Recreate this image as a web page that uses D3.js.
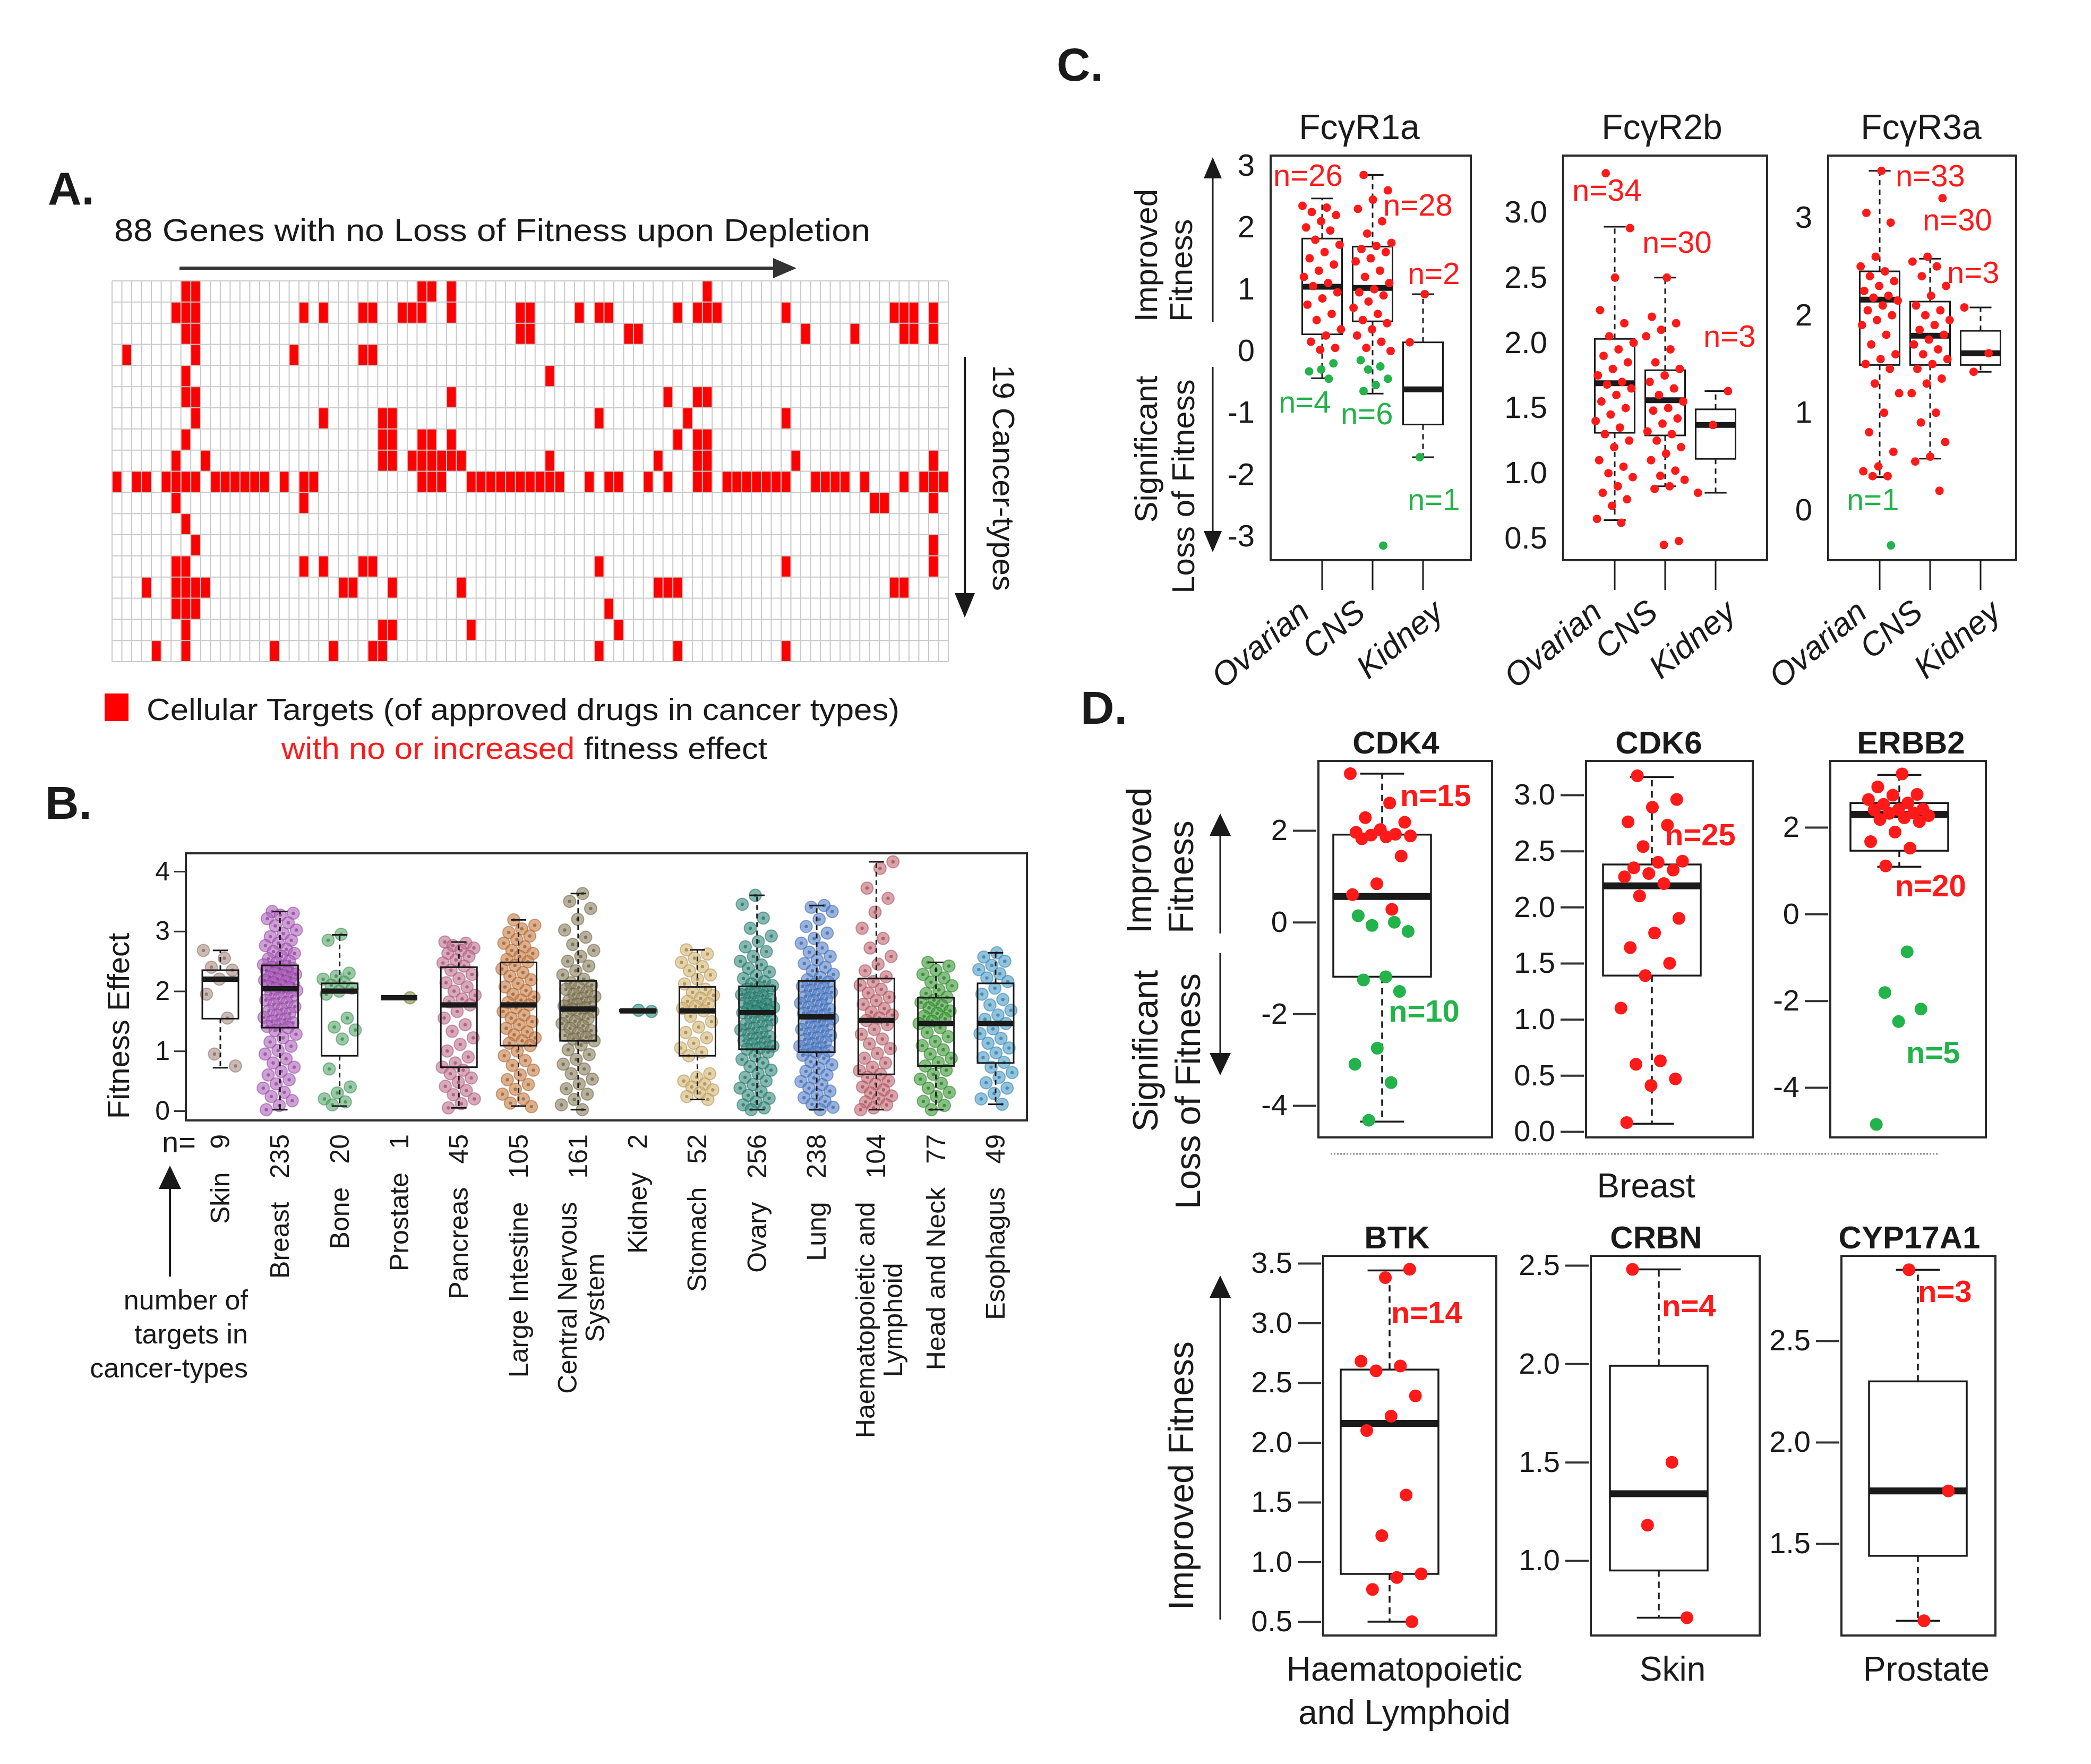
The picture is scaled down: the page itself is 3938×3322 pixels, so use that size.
<!DOCTYPE html>
<html>
<head>
<meta charset="utf-8">
<script src="https://cdn.jsdelivr.net/npm/d3@7/dist/d3.min.js"></script>
<style>
  body { margin: 0; background: #fff; }
  svg text { font-family: 'Liberation Sans', Arial, Helvetica, sans-serif; }
</style>
</head>
<body>
<svg id="fig" width="3938" height="3322"></svg>
<script>
// ============================================================
// Four-panel figure: A heatmap of drug targets, B fitness effect
// per cancer type, C Fc-gamma receptors, D selected targets.
// ============================================================

// ---------- Panel A: which gene columns are red in each cancer-type row ----------
const heatGenes = 85;
const heatTypes = 18;
const heatHits = [
  [7,8,31,32,34,60],
  [6,7,8,19,21,25,26,29,30,31,34,41,42,47,49,50,57,59,60,61,68,79,80,81,83],
  [7,8,41,42,52,53,70,75,80,81,83],
  [1,8,18,25,26],
  [7,44],
  [7,8,34,56,59,60],
  [8,21,27,28,49,58,68],
  [7,27,28,31,32,34,57,59,60],
  [6,9,27,28,30,31,32,33,34,35,44,55,59,60,69,83],
  [0,2,3,5,6,7,8,10,11,12,13,14,15,17,19,20,31,32,33,36,37,38,39,40,41,42,43,44,45,48,50,51,54,56,59,60,62,63,64,65,66,67,68,71,72,73,74,76,80,82,83,84],
  [6,19,77,78,83],
  [7],
  [8,83],
  [6,7,19,21,25,26,49,68,83],
  [3,6,7,8,9,23,24,28,35,55,56,57,79,80],
  [6,7,8,50],
  [7,27,28,36,51],
  [4,7,16,22,26,27,49,57,68]
];

// ---------- Panel B: fitness effect by cancer type ----------
const bTypes = ["Skin","Breast","Bone","Prostate","Pancreas","Large Intestine","Central Nervous System",
  "Kidney","Stomach","Ovary","Lung","Haematopoietic and Lymphoid","Head and Neck","Esophagus"];
const bLines = [["Skin"],["Breast"],["Bone"],["Prostate"],["Pancreas"],["Large Intestine"],
  ["Central Nervous","System"],["Kidney"],["Stomach"],["Ovary"],["Lung"],
  ["Haematopoietic and","Lymphoid"],["Head and Neck"],["Esophagus"]];
const bCounts = [9,235,20,1,45,105,161,2,52,256,238,104,77,49];
const bColors = ["#a98a82","#b15dbf","#52a866","#7d8a3a","#c46d8e","#c97a3d","#877b56",
  "#1f8a7c","#d6b46c","#2f8a7c","#5280cf","#c4636f","#33992f","#449dcd"];
const bLow  = [0.72,0.02,0.08,1.89,0.05,0.08,0.02,1.67,0.19,0.02,0.02,0.02,0.02,0.11];
const bQ1   = [1.54,1.39,0.92,1.89,0.73,1.09,1.17,1.66,0.92,1.03,0.98,0.61,0.75,0.80];
const bMed  = [2.20,2.04,2.00,1.89,1.77,1.77,1.70,1.67,1.67,1.64,1.57,1.51,1.46,1.46];
const bQ3   = [2.35,2.43,2.13,1.89,2.40,2.48,2.17,1.69,2.07,2.08,2.17,2.21,1.89,2.13];
const bHigh = [2.68,3.33,2.94,1.89,2.82,3.19,3.63,1.69,2.69,3.60,3.43,4.16,2.48,2.64];
const bPoints = [
  [2.68,2.55,2.4,2.35,2.2,1.95,1.55,0.95,0.75],
  [3.33,3.3,3.27,3.21,3.14,3.09,3.02,2.96,2.91,2.85,2.8,2.76,2.7,2.66,2.63,2.58,2.54,2.5,2.47,2.44,
   2.42,2.4,2.38,2.37,2.34,2.32,2.3,2.28,2.26,2.23,2.22,2.2,2.18,2.16,2.14,2.12,2.1,2.08,2.06,2.04,
   2.01,1.98,1.95,1.91,1.88,1.85,1.81,1.78,1.74,1.7,1.67,1.63,1.6,1.56,1.53,1.5,1.47,1.44,1.41,1.39,
   1.34,1.28,1.22,1.15,1.08,1.01,0.95,0.87,0.8,0.73,0.66,0.6,0.52,0.45,0.38,0.31,0.24,0.17,0.09,0.02],
  [2.95,2.85,2.3,2.25,2.2,2.15,2.1,2.05,2.0,1.95,1.55,1.4,1.35,1.2,0.7,0.4,0.3,0.2,0.15,0.1],
  [1.89],
  [2.82,2.8,2.76,2.72,2.68,2.63,2.58,2.52,2.47,2.42,2.35,2.28,2.21,2.14,2.07,2.0,1.93,1.87,1.82,1.77,
   1.66,1.55,1.44,1.33,1.22,1.11,1.0,0.9,0.8,0.73,0.68,0.62,0.55,0.48,0.41,0.34,0.27,0.2,0.12,0.05],
  [3.19,3.1,3.04,2.98,2.92,2.86,2.8,2.74,2.68,2.63,2.58,2.53,2.49,2.43,2.37,2.31,2.25,2.19,2.13,2.07,
   2.01,1.95,1.9,1.85,1.81,1.77,1.72,1.66,1.6,1.55,1.49,1.44,1.38,1.32,1.27,1.22,1.17,1.13,1.09,1.0,
   0.92,0.84,0.76,0.68,0.6,0.52,0.44,0.36,0.28,0.2,0.13,0.07],
  [3.63,3.5,3.38,3.2,3.02,2.9,2.78,2.68,2.58,2.5,2.42,2.34,2.27,2.2,2.14,2.1,2.06,2.03,1.99,1.95,
   1.91,1.88,1.84,1.81,1.78,1.75,1.72,1.7,1.66,1.62,1.58,1.54,1.5,1.46,1.42,1.38,1.34,1.3,1.26,1.23,
   1.2,1.17,1.1,1.02,0.94,0.86,0.78,0.7,0.62,0.53,0.45,0.37,0.28,0.19,0.1,0.02],
  [1.66,1.68],
  [2.69,2.62,2.55,2.48,2.41,2.34,2.27,2.2,2.12,2.03,1.98,1.93,1.88,1.83,1.79,1.75,1.71,1.67,
   1.58,1.49,1.4,1.31,1.22,1.13,1.05,0.98,0.92,0.62,0.56,0.5,0.45,0.4,0.35,0.3,0.24,0.19],
  [3.6,3.45,3.22,3.05,2.92,2.83,2.74,2.66,2.58,2.5,2.44,2.38,2.32,2.26,2.21,2.16,2.12,2.09,
   2.06,2.03,2.0,1.97,1.94,1.92,1.89,1.86,1.83,1.8,1.78,1.75,1.73,1.71,1.69,1.67,1.66,1.64,
   1.6,1.56,1.52,1.49,1.45,1.42,1.38,1.35,1.31,1.28,1.24,1.21,1.17,1.14,1.11,1.08,1.05,1.03,
   0.98,0.92,0.86,0.8,0.74,0.68,0.62,0.56,0.5,0.44,0.38,0.32,0.26,0.21,0.15,0.1,0.05,0.02],
  [3.43,3.4,3.33,3.2,3.08,2.97,2.88,2.8,2.72,2.65,2.58,2.52,2.46,2.4,2.34,2.28,2.23,2.19,
   2.15,2.12,2.08,2.05,2.01,1.98,1.94,1.91,1.87,1.84,1.8,1.77,1.73,1.7,1.66,1.63,1.6,1.57,
   1.54,1.5,1.47,1.43,1.4,1.36,1.33,1.29,1.26,1.22,1.19,1.15,1.12,1.08,1.05,1.02,1.0,0.98,
   0.93,0.88,0.82,0.77,0.71,0.66,0.6,0.55,0.49,0.44,0.38,0.33,0.27,0.22,0.16,0.11,0.06,0.02],
  [4.16,4.05,3.72,3.55,3.32,3.05,2.88,2.72,2.58,2.45,2.34,2.24,2.16,2.1,2.03,1.97,1.9,1.84,1.78,1.71,
   1.65,1.6,1.55,1.51,1.44,1.36,1.28,1.2,1.12,1.04,0.96,0.88,0.8,0.73,0.67,0.61,0.56,0.5,0.45,0.4,
   0.35,0.3,0.25,0.2,0.15,0.1,0.05,0.02],
  [2.48,2.42,2.35,2.28,2.22,2.15,2.09,2.02,1.96,1.9,1.85,1.81,1.76,1.72,1.67,1.63,1.58,1.54,1.5,1.46,
   1.39,1.31,1.24,1.16,1.09,1.02,0.95,0.88,0.81,0.75,0.68,0.61,0.53,0.46,0.38,0.31,0.24,0.16,0.09,0.02],
  [2.64,2.57,2.5,2.43,2.36,2.29,2.22,2.16,2.05,1.95,1.86,1.77,1.68,1.6,1.53,1.46,
   1.37,1.29,1.21,1.13,1.05,0.97,0.89,0.81,0.73,0.64,0.56,0.47,0.38,0.29,0.2,0.11]
];
const bTicks = [0,1,2,3,4];

// ---------- Panel C: Fc-gamma receptors in three cancer types ----------
const cGenes = ["FcγR1a","FcγR2b","FcγR3a"];
const cTypes = ["Ovarian","CNS","Kidney"];
const cLow  = [[-0.44,-0.69,-1.72],[0.64,0.90,0.85],[0.34,0.53,1.42]];
const cQ1   = [[0.27,0.48,-1.19],[1.31,1.29,1.11],[1.49,1.49,1.49]];
const cMed  = [[1.04,1.02,-0.62],[1.69,1.56,1.37],[2.16,1.79,1.61]];
const cQ3   = [[1.82,1.69,0.14],[2.03,1.79,1.49],[2.45,2.14,1.84]];
const cHigh = [[2.47,2.85,0.92],[2.89,2.50,1.63],[3.48,2.58,2.08]];
const cRed = [
  [[2.35,2.32,2.25,2.2,2.1,2.0,1.95,1.8,1.72,1.6,1.5,1.4,1.3,1.2,1.1,1.05,0.95,0.85,0.75,0.6,0.5,0.35,0.25,0.15,0.05,0.02],
   [2.85,2.6,2.45,2.3,2.1,1.9,1.75,1.7,1.65,1.6,1.5,1.45,1.3,1.2,1.1,1.0,0.95,0.9,0.8,0.7,0.6,0.5,0.45,0.35,0.25,0.15,0.05,0.0],
   [0.92,0.14]],
  [[3.3,2.88,2.5,2.25,2.15,2.05,2.0,1.95,1.9,1.85,1.8,1.75,1.7,1.68,1.65,1.6,1.55,1.5,1.45,1.4,1.35,1.3,1.25,1.2,1.1,1.05,1.0,0.97,0.9,0.85,0.8,0.75,0.65,0.62],
   [2.5,2.2,2.15,2.1,2.05,1.95,1.85,1.8,1.75,1.7,1.65,1.6,1.55,1.5,1.48,1.42,1.38,1.32,1.3,1.25,1.2,1.15,1.1,1.02,0.98,0.95,0.9,0.88,0.48,0.45],
   [1.63,1.37,0.85]],
  [[3.48,3.05,2.95,2.6,2.5,2.45,2.4,2.35,2.3,2.25,2.2,2.18,2.15,2.1,2.05,2.0,1.95,1.9,1.8,1.7,1.6,1.55,1.5,1.45,1.3,1.2,1.0,0.8,0.6,0.45,0.4,0.35,0.35],
   [3.2,2.6,2.55,2.5,2.4,2.3,2.2,2.1,2.05,2.0,1.95,1.9,1.85,1.8,1.75,1.7,1.65,1.6,1.55,1.5,1.45,1.35,1.3,1.2,1.0,0.9,0.7,0.55,0.5,0.2],
   [2.08,1.61,1.42]]
];
const cGreen = [
  [[-0.2,-0.3,-0.33,-0.45],[-0.15,-0.25,-0.3,-0.45,-0.55,-0.65,-3.15],[-1.72]],
  [[],[],[]],
  [[-0.36],[],[]]
];
const cRedN   = [[26,28,2],[34,30,3],[33,30,3]];
const cGreenN = [[4,6,1],[null,null,null],[1,null,null]];
const cTicks  = [[-3,-2,-1,0,1,2,3],[0.5,1.0,1.5,2.0,2.5,3.0],[0,1,2,3]];

// ---------- Panel D: approved-drug targets ----------
const dGenes = ["CDK4","CDK6","ERBB2","BTK","CRBN","CYP17A1"];
const dLow  = [-4.35,0.07,1.09,0.50,0.71,1.12];
const dQ1   = [-1.19,1.39,1.46,0.90,0.95,1.44];
const dMed  = [0.56,2.19,2.30,2.16,1.34,1.76];
const dQ3   = [1.91,2.38,2.56,2.61,1.99,2.30];
const dHigh = [3.24,3.16,3.21,3.44,2.48,2.85];
const dRed = [
  [3.24,2.6,2.28,2.18,2.02,1.96,1.92,1.9,1.88,1.86,1.82,1.44,0.84,0.6,0.28],
  [3.17,2.96,2.89,2.76,2.73,2.54,2.41,2.4,2.35,2.33,2.3,2.27,2.21,2.1,1.9,1.77,1.64,1.5,1.39,1.1,0.63,0.6,0.47,0.41,0.08],
  [3.23,2.93,2.76,2.74,2.64,2.56,2.53,2.42,2.41,2.4,2.33,2.32,2.27,2.22,2.18,2.13,1.89,1.67,1.52,1.11],
  [3.45,3.38,2.68,2.64,2.6,2.39,2.22,2.1,1.56,1.22,0.9,0.87,0.77,0.5],
  [2.48,1.5,1.18,0.71],
  [2.85,1.76,1.12]
];
const dGreen = [
  [0.14,0.0,-0.07,-0.2,-1.19,-1.26,-1.51,-2.75,-3.1,-3.5,-4.32],
  [],
  [-0.87,-1.81,-2.19,-2.48,-4.85],
  [],[],[]
];
const dRedN   = [15,25,20,14,4,3];
const dGreenN = [10,null,5,null,null,null];
const dTicks = [[-4,-2,0,2],[0.0,0.5,1.0,1.5,2.0,2.5,3.0],[-4,-2,0,2],
  [0.5,1.0,1.5,2.0,2.5,3.0,3.5],[1.0,1.5,2.0,2.5],[1.5,2.0,2.5]];
const dTissueTop = "Breast";
const dTissueBottom = [["Haematopoietic","and Lymphoid"],["Skin"],["Prostate"]];

// ============================================================
(function(){
  const svg = d3.select('#fig');
  svg.append('rect').attr('width', 3938).attr('height', 3322).attr('fill', '#fff');

  const INK = '#1a1a1a', RED = '#ff1a1a', GREEN = '#22b34a';

  function label(g, x, y, s, size, o = {}) {
    const t = g.append('text').attr('x', x).attr('y', y).attr('font-size', size)
      .attr('text-anchor', o.anchor || 'start').attr('fill', o.fill || INK);
    if (o.weight) t.attr('font-weight', o.weight);
    if (o.italic) t.attr('font-style', 'italic');
    if (o.rotate !== undefined) t.attr('transform', `rotate(${o.rotate},${x},${y})`);
    if (o.len) t.attr('textLength', o.len).attr('lengthAdjust', 'spacingAndGlyphs');
    t.text(s);
    return t;
  }

  // straight line with a filled triangular head at (x2,y2)
  function arrow(g, x1, y1, x2, y2, o = {}) {
    const len = o.head || 40, hw = o.hw || 17, col = o.color || INK;
    const a = Math.atan2(y2 - y1, x2 - x1);
    const bx = x2 - len * Math.cos(a), by = y2 - len * Math.sin(a);
    g.append('line').attr('x1', x1).attr('y1', y1).attr('x2', bx).attr('y2', by)
      .attr('stroke', col).attr('stroke-width', o.w || 4);
    const px = -Math.sin(a) * hw, py = Math.cos(a) * hw;
    g.append('path').attr('d', `M${x2},${y2}L${bx + px},${by + py}L${bx - px},${by - py}Z`).attr('fill', col);
  }

  function boxplot(g, cx, w, y, lo, q1, med, q3, hi, o) {
    const cap = w * (o.cap || 0.45);
    const ln = (x1, y1, x2, y2) => g.append('line').attr('x1', x1).attr('y1', y1).attr('x2', x2).attr('y2', y2)
      .attr('stroke', INK).attr('stroke-width', o.lw);
    ln(cx, y(q3), cx, y(hi)).attr('stroke-dasharray', o.dash);
    ln(cx, y(q1), cx, y(lo)).attr('stroke-dasharray', o.dash);
    ln(cx - cap / 2, y(hi), cx + cap / 2, y(hi));
    ln(cx - cap / 2, y(lo), cx + cap / 2, y(lo));
    g.append('rect').attr('x', cx - w / 2).attr('y', y(q3)).attr('width', w)
      .attr('height', Math.max(0, y(q1) - y(q3))).attr('fill', 'none')
      .attr('stroke', INK).attr('stroke-width', o.lw);
    ln(cx - w / 2, y(med), cx + w / 2, y(med)).attr('stroke-width', o.mw);
  }

  // deterministic horizontal spread for strip points
  const jitter = (i, k, width) => (((i * 0.6180339887 + k * 0.2719) % 1) - 0.5) * width;

  function frame(g, x0, x1, y0, y1) {
    g.append('rect').attr('x', x0).attr('y', y0).attr('width', x1 - x0).attr('height', y1 - y0)
      .attr('fill', 'none').attr('stroke', '#2a2a2a').attr('stroke-width', 4);
  }

  // ================= Panel A =================
  const gA = svg.append('g');
  label(gA, 90, 385, 'A.', 88, {weight: 'bold'});
  label(gA, 215, 454, '88 Genes with no Loss of Fitness upon Depletion', 60, {len: 1424});
  arrow(gA, 338, 505, 1500, 505, {head: 44, hw: 19, w: 6, color: '#333'});

  const hx = d3.scaleBand().domain(d3.range(heatGenes)).range([211, 1786]);
  const hy = d3.scaleBand().domain(d3.range(heatTypes)).range([529, 1246]);
  const cells = heatHits.flatMap((cols, r) => cols.map(c => ({r, c})));
  gA.append('g').selectAll('rect').data(cells).join('rect')
    .attr('x', d => hx(d.c)).attr('y', d => hy(d.r))
    .attr('width', hx.bandwidth()).attr('height', hy.bandwidth()).attr('fill', '#ff0000');
  const grid = gA.append('g').attr('stroke', '#c9c9c9').attr('stroke-width', 2);
  d3.range(heatGenes + 1).forEach(i => {
    const x = hx.range()[0] + i * hx.step();
    grid.append('line').attr('x1', x).attr('x2', x).attr('y1', hy.range()[0]).attr('y2', hy.range()[1]);
  });
  d3.range(heatTypes + 1).forEach(i => {
    const y = hy.range()[0] + i * hy.step();
    grid.append('line').attr('x1', hx.range()[0]).attr('x2', hx.range()[1]).attr('y1', y).attr('y2', y);
  });
  arrow(gA, 1817, 672, 1817, 1163, {head: 46, hw: 19, w: 4});
  label(gA, 1870, 900, '19 Cancer-types', 58, {anchor: 'middle', rotate: 90});

  gA.append('rect').attr('x', 197).attr('y', 1306).attr('width', 45).attr('height', 52).attr('fill', '#ff0000');
  label(gA, 276, 1356, 'Cellular Targets (of approved drugs in cancer types)', 58, {len: 1418});
  const l2 = gA.append('text').attr('x', 530).attr('y', 1429).attr('font-size', 58)
    .attr('textLength', 915).attr('lengthAdjust', 'spacingAndGlyphs');
  l2.append('tspan').attr('fill', RED).text('with no or increased');
  l2.append('tspan').attr('fill', INK).text(' fitness effect');

  // ================= Panel B =================
  const gB = svg.append('g');
  label(gB, 85, 1542, 'B.', 88, {weight: 'bold'});
  const bx = d3.scalePoint().domain(bTypes).range([415, 1875]);
  const by = d3.scaleLinear().domain(d3.extent(bTicks)).range([2092, 1641]);
  const boxW = 68;

  bTypes.forEach((t, k) => {
    const cx = bx(t), col = bColors[k];
    const pts = gB.append('g');
    bPoints[k].forEach((v, i) => {
      const x = cx + jitter(i, k, 64);
      pts.append('circle').attr('cx', x).attr('cy', by(v)).attr('r', 11.5)
        .attr('fill', col).attr('fill-opacity', 0.6)
        .attr('stroke', d3.color(col).darker(0.7)).attr('stroke-opacity', 0.5).attr('stroke-width', 2);
      pts.append('circle').attr('cx', x).attr('cy', by(v)).attr('r', 3.2)
        .attr('fill', d3.color(col).darker(1.6)).attr('fill-opacity', 0.55);
    });
    boxplot(gB, cx, boxW, by, bLow[k], bQ1[k], bMed[k], bQ3[k], bHigh[k],
      {lw: 3, mw: 10, dash: '9,7', cap: 0.42});
  });
  frame(gB, 350, 1934, 1607, 2110);
  const bAxis = gB.append('g').attr('transform', 'translate(350,0)')
    .call(d3.axisLeft(by).tickValues(bTicks).tickFormat(d => String(d)).tickSize(22).tickPadding(8));
  bAxis.select('.domain').remove();
  bAxis.selectAll('line').attr('stroke', '#333').attr('stroke-width', 3);
  bAxis.selectAll('text').attr('font-size', 50).attr('fill', INK);
  label(gB, 243, 1932, 'Fitness Effect', 58, {anchor: 'middle', rotate: -90});

  // group names with counts, rotated
  const yEnd = 2136;
  label(gB, 305, 2170, 'n=', 56);
  bTypes.forEach((t, k) => {
    const x = bx(t) + 17;
    const cnt = label(gB, x, yEnd, String(bCounts[k]), 50, {anchor: 'end', rotate: -90});
    const cw = cnt.node().getComputedTextLength();
    const lines = bLines[k];
    const shift = lines.length > 1 ? -20 : 0;
    const n1 = gB.append('text').attr('transform', `translate(${x + shift},${yEnd}) rotate(-90)`)
      .attr('x', -(cw + 44)).attr('y', 0).attr('text-anchor', 'end')
      .attr('font-size', 50).attr('fill', INK).text(lines[0]);
    if (lines.length > 1) {
      const nw = n1.node().getComputedTextLength();
      gB.append('text').attr('transform', `translate(${x + shift + 52},${yEnd}) rotate(-90)`)
        .attr('x', -(cw + 44) - nw / 2).attr('y', 0).attr('text-anchor', 'middle')
        .attr('font-size', 50).attr('fill', INK).text(lines[1]);
    }
  });
  arrow(gB, 320, 2404, 320, 2195, {head: 44, hw: 21, w: 4});
  ['number of', 'targets in', 'cancer-types'].forEach((s, i) =>
    label(gB, 467, 2466 + i * 64, s, 52, {anchor: 'end'}));

  // ================= Panel C =================
  const gC = svg.append('g');
  label(gC, 1990, 152, 'C.', 88, {weight: 'bold'});
  const cFrameX = [[2393, 2770], [2944, 3328], [3443, 3797]];
  const cPix = [[1010, 312], [1014, 400], [961, 410]];      // y range for tick extent
  const cTitleX = [2560, 3130, 3618];
  const cFmt = [d => String(d), d => d.toFixed(1), d => String(d)];
  const cRedSpot = [[[5, 2.67], [212, 2.19], [258, 1.08]], [[17, 3.09], [149, 2.69], [264, 1.97]],
    [[127, 3.32], [178, 2.87], [224, 2.33]]];
  const cGreenSpot = [[[15, -1.0], [132, -1.19], [258, -2.58]], [null, null, null], [[35, 0.0], null, null]];
  const cLabDx = [-20, -10, 42];
  const cTop = 293, cBot = 1055;

  cGenes.forEach((gene, k) => {
    const [x0, x1] = cFrameX[k];
    const y = d3.scaleLinear().domain(d3.extent(cTicks[k])).range(cPix[k]);
    const x = d3.scaleLinear().domain([0, cTypes.length - 1]).range([x0 + 97, x0 + 287]);
    frame(gC, x0, x1, cTop, cBot);
    label(gC, cTitleX[k], 262, gene, 66, {anchor: 'middle'});
    const ax = gC.append('g').attr('transform', `translate(${x0},0)`)
      .call(d3.axisLeft(y).tickValues(cTicks[k]).tickFormat(cFmt[k]).tickSize(0).tickPadding(30));
    ax.select('.domain').remove();
    ax.selectAll('text').attr('font-size', 58).attr('fill', INK);

    cTypes.forEach((t, j) => {
      const cx = x(j);
      boxplot(gC, cx, 75, y, cLow[k][j], cQ1[k][j], cMed[k][j], cQ3[k][j], cHigh[k][j],
        {lw: 3, mw: 11, dash: '10,8', cap: 0.55});
      cRed[k][j].forEach((v, i) => gC.append('circle').attr('cx', cx + jitter(i, j + k, 74))
        .attr('cy', y(v)).attr('r', 8).attr('fill', RED));
      cGreen[k][j].forEach((v, i) => gC.append('circle').attr('cx', cx + jitter(i + 3, j, 60))
        .attr('cy', y(v)).attr('r', 8).attr('fill', GREEN));
      gC.append('line').attr('x1', cx).attr('x2', cx).attr('y1', cBot).attr('y2', cBot + 56)
        .attr('stroke', INK).attr('stroke-width', 3);
      label(gC, cx + cLabDx[j], cBot + 104, t, 62, {anchor: 'end', italic: true, rotate: -40});
      const rs = cRedSpot[k][j];
      label(gC, x0 + rs[0], y(rs[1]), 'n=' + cRedN[k][j], 58, {fill: RED});
      const gs = cGreenSpot[k][j];
      if (gs && cGreenN[k][j] != null) label(gC, x0 + gs[0], y(gs[1]), 'n=' + cGreenN[k][j], 58, {fill: GREEN});
    });
  });
  arrow(gC, 2284, 607, 2284, 296, {head: 40, hw: 17, w: 3});
  arrow(gC, 2284, 691, 2284, 1040, {head: 40, hw: 17, w: 3});
  label(gC, 2179, 606, 'Improved', 60, {rotate: -90});
  label(gC, 2245, 606, 'Fitness', 60, {rotate: -90});
  label(gC, 2179, 846, 'Significant', 60, {anchor: 'middle', rotate: -90});
  label(gC, 2249, 916, 'Loss of Fitness', 60, {anchor: 'middle', rotate: -90});

  // ================= Panel D =================
  const gD = svg.append('g');
  label(gD, 2035, 1363, 'D.', 88, {weight: 'bold'});
  const dFrameX = [[2483, 2810], [2987, 3301], [3447, 3740], [2492, 2818], [2996, 3314], [3468, 3758]];
  const dFrameY = [[1433, 2142], [1433, 2142], [1433, 2142], [2365, 3080], [2365, 3080], [2365, 3080]];
  const dPix = [[2082, 1564], [2131, 1497], [2048, 1558], [3054, 2379], [2939, 2383], [2907, 2525]];
  const dBoxRel = [120, 124, 130, 125, 128, 144];
  const dTitleX = [2629, 3124, 3599, 2631, 3119, 3596];
  const dFmt = [d => String(d), d => d.toFixed(1), d => String(d), d => d.toFixed(1), d => d.toFixed(1), d => d.toFixed(1)];
  const dRedSpot = [[154, 2.53], [148, 2.55], [122, 0.41], [128, 3.0], [134, 2.24], [144, 2.69]];
  const dGreenSpot = [[132, -2.17], null, [143, -3.44], null, null, null];

  dGenes.forEach((gene, k) => {
    const [x0, x1] = dFrameX[k], [y0, y1] = dFrameY[k];
    const y = d3.scaleLinear().domain(d3.extent(dTicks[k])).range(dPix[k]);
    frame(gD, x0, x1, y0, y1);
    label(gD, dTitleX[k], y0 - 14, gene, 60, {anchor: 'middle', weight: 'bold'});
    const ax = gD.append('g').attr('transform', `translate(${x0 - 4},0)`)
      .call(d3.axisLeft(y).tickValues(dTicks[k]).tickFormat(dFmt[k]).tickSize(44).tickPadding(10));
    ax.select('.domain').remove();
    ax.selectAll('line').attr('stroke', '#333').attr('stroke-width', 4);
    ax.selectAll('text').attr('font-size', 56).attr('fill', INK);
    const cx = x0 + dBoxRel[k];
    boxplot(gD, cx, 184, y, dLow[k], dQ1[k], dMed[k], dQ3[k], dHigh[k],
      {lw: 3.5, mw: 13, dash: '12,9', cap: 0.45});
    dRed[k].forEach((v, i) => gD.append('circle').attr('cx', cx + jitter(i, k, 120))
      .attr('cy', y(v)).attr('r', 12).attr('fill', RED));
    dGreen[k].forEach((v, i) => gD.append('circle').attr('cx', cx + jitter(i + 5, k, 110))
      .attr('cy', y(v)).attr('r', 12).attr('fill', GREEN));
    label(gD, x0 + dRedSpot[k][0], y(dRedSpot[k][1]), 'n=' + dRedN[k], 58, {fill: RED, weight: 'bold'});
    if (dGreenSpot[k]) label(gD, x0 + dGreenSpot[k][0], y(dGreenSpot[k][1]), 'n=' + dGreenN[k], 58, {fill: GREEN, weight: 'bold'});
  });
  gD.append('line').attr('x1', 2506).attr('x2', 3650).attr('y1', 2173).attr('y2', 2173)
    .attr('stroke', '#888').attr('stroke-width', 3).attr('stroke-dasharray', '3,3');
  label(gD, 3100, 2255, dTissueTop, 64, {anchor: 'middle'});
  const dTissueX = [2645, 3150, 3628];
  dTissueBottom.forEach((lines, i) => lines.forEach((s, j) =>
    label(gD, dTissueX[i], 3165 + j * 82, s, 64, {anchor: 'middle'})));

  arrow(gD, 2298, 1758, 2298, 1532, {head: 42, hw: 20, w: 3});
  arrow(gD, 2298, 1795, 2298, 2025, {head: 42, hw: 20, w: 3});
  arrow(gD, 2298, 3050, 2298, 2402, {head: 42, hw: 20, w: 3});
  label(gD, 2168, 1758, 'Improved', 66, {rotate: -90});
  label(gD, 2247, 1758, 'Fitness', 66, {rotate: -90});
  label(gD, 2180, 1979, 'Significant', 66, {anchor: 'middle', rotate: -90});
  label(gD, 2260, 2055, 'Loss of Fitness', 66, {anchor: 'middle', rotate: -90});
  label(gD, 2247, 2779, 'Improved Fitness', 66, {anchor: 'middle', rotate: -90});
})();
</script>
</body>
</html>
